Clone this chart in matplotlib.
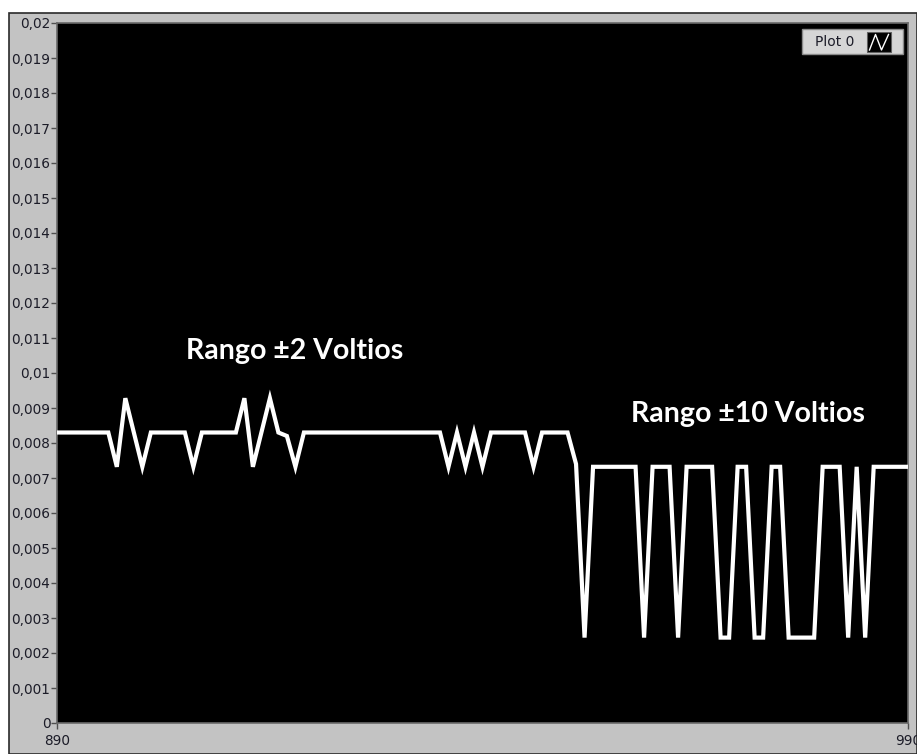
import numpy as np
import matplotlib
matplotlib.use("Agg")
import matplotlib.pyplot as plt
from matplotlib.patches import Rectangle
from matplotlib.lines import Line2D

# Sample index (x axis) and measured voltage for each sample
samples = list(range(890, 991))
voltage = [
    # 890-899
    0.00830, 0.00830, 0.00830, 0.00830, 0.00830, 0.00830, 0.00830, 0.00732, 0.00928, 0.00830,
    # 900-909
    0.00732, 0.00830, 0.00830, 0.00830, 0.00830, 0.00830, 0.00732, 0.00830, 0.00830, 0.00830,
    # 910-919
    0.00830, 0.00830, 0.00928, 0.00732, 0.00830, 0.00928, 0.00830, 0.00820, 0.00732, 0.00830,
    # 920-929
    0.00830, 0.00830, 0.00830, 0.00830, 0.00830, 0.00830, 0.00830, 0.00830, 0.00830, 0.00830,
    # 930-939
    0.00830, 0.00830, 0.00830, 0.00830, 0.00830, 0.00830, 0.00732, 0.00830, 0.00732, 0.00830,
    # 940-949
    0.00732, 0.00830, 0.00830, 0.00830, 0.00830, 0.00830, 0.00732, 0.00830, 0.00830, 0.00830,
    # 950-959
    0.00830, 0.00740, 0.00244, 0.00732, 0.00732, 0.00732, 0.00732, 0.00732, 0.00732, 0.00244,
    # 960-969
    0.00732, 0.00732, 0.00732, 0.00244, 0.00732, 0.00732, 0.00732, 0.00732, 0.00244, 0.00244,
    # 970-979
    0.00732, 0.00732, 0.00244, 0.00244, 0.00732, 0.00732, 0.00244, 0.00244, 0.00244, 0.00244,
    # 980-990
    0.00732, 0.00732, 0.00732, 0.00244, 0.00732, 0.00244, 0.00732, 0.00732, 0.00732, 0.00732, 0.00732,
]
y_ticks = [i / 1000 for i in range(0, 21)]
y_tick_labels = ["0" if i == 0 else ("0,02" if i == 20 else ("0,01" if i == 10 else f"0,{i:03d}")) for i in range(0, 21)]
x_ticks = [890, 990]
x_tick_labels = ["890", "990"]
annotations = [("Rango ±2 Voltios", 917.95, 0.01040), ("Rango ±10 Voltios", 971.2, 0.00861)]
legend_label = "Plot 0"

W, H = 917, 754
fig = plt.figure(figsize=(W / 100, H / 100), dpi=100)
fig.patch.set_facecolor("white")


def fx(px):
    return px / W


def fy(py):
    return 1 - py / H


# Panel background with dark outer border
panel = Rectangle((fx(8.5), 0), fx(W) - fx(8.5), fy(13), transform=fig.transFigure,
                  facecolor="#c3c3c3", edgecolor="#2a2a2a", linewidth=1.2, zorder=0)
fig.add_artist(panel)

left, right, top, bottom = 57.3, 907.7, 23.0, 723.0
ax = fig.add_axes([fx(left), fy(bottom), fx(right) - fx(left), fy(top) - fy(bottom)])
ax.set_facecolor("black")
ax.plot(samples, voltage, color="white", linewidth=3.0, solid_joinstyle="miter", zorder=3)

ax.set_xlim(890, 990)
ax.set_ylim(0, 0.02)
ax.set_yticks(y_ticks)
ax.set_yticklabels(y_tick_labels)
ax.set_xticks(x_ticks)
ax.set_xticklabels(x_tick_labels)
ax.tick_params(axis="both", direction="out", length=4, width=1, color="#505050",
               labelsize=9.8, labelcolor="#1c1c28", pad=1)
ax.tick_params(axis="x", pad=4)
for s in ax.spines.values():
    s.set_color("#6a6a6a")
    s.set_linewidth(1.2)

for text, xv, yv in annotations:
    ax.text(xv, yv, text, color="white", fontsize=20.5, fontweight="bold",
            family="Lato", ha="center", va="baseline", zorder=4)

# Legend box with plot sample icon
lg = Rectangle((fx(801.5), fy(53.5)), fx(903) - fx(801.5), fy(29) - fy(53.5),
               transform=fig.transFigure, facecolor="#d6d6d6", edgecolor="#8a8a8a",
               linewidth=1.0, zorder=5)
fig.add_artist(lg)
fig.text(fx(835), fy(41.5), legend_label, fontsize=10, color="#1c1c28",
         ha="center", va="center", zorder=6)
icon = Rectangle((fx(867), fy(52)), fx(891) - fx(867), fy(32) - fy(52),
                 transform=fig.transFigure, facecolor="black", edgecolor="#606060",
                 linewidth=0.8, zorder=6)
fig.add_artist(icon)
zx = [869.5, 875.5, 881.5, 888.5]
zy = [50, 34.5, 50, 34.5]
fig.add_artist(Line2D([fx(v) for v in zx], [fy(v) for v in zy], transform=fig.transFigure,
                      color="white", linewidth=1.0, zorder=7))

fig.savefig("out.png", dpi=100, facecolor=fig.get_facecolor())
